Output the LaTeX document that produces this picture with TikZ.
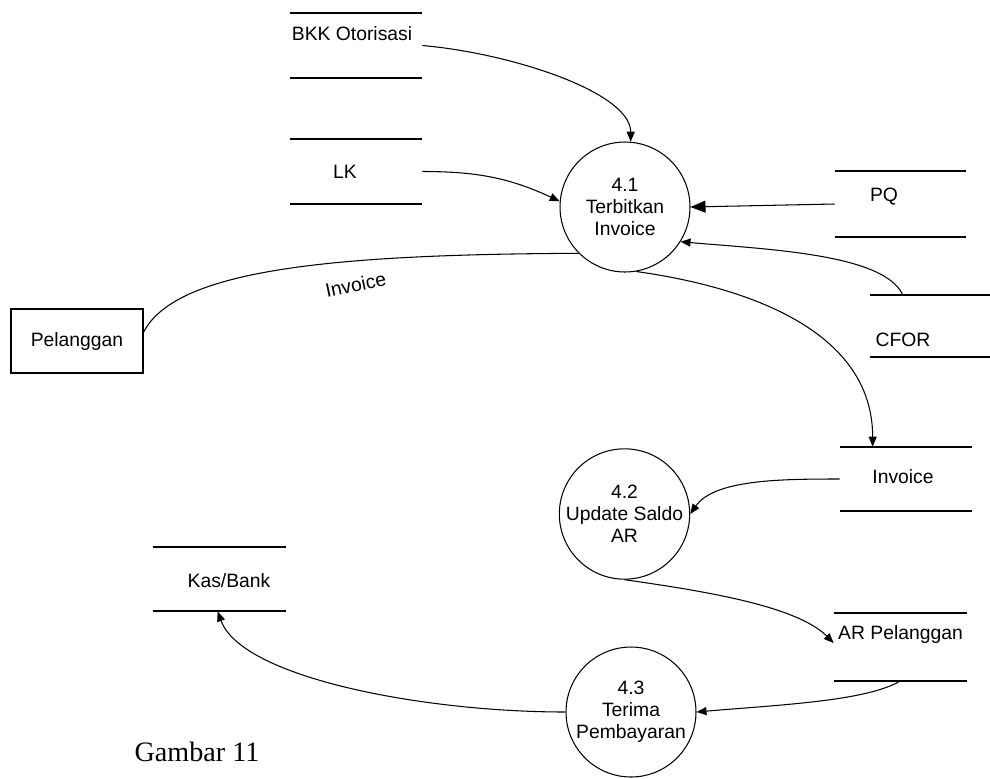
\documentclass[tikz,border=0pt]{standalone}
\usepackage{fontspec}
\setmainfont{Liberation Sans}
\newfontfamily\captionfont{Liberation Serif}
\usetikzlibrary{arrows.meta}

\begin{document}
\begin{tikzpicture}[
    x=0.02cm, y=0.02cm,
    every node/.style={font=\fontsize{11}{12.5}\selectfont},
    process/.style={draw, circle, line width=0.6pt, minimum size=2.6cm, inner sep=0pt, align=center},
    entity/.style={draw, line width=0.8pt, minimum width=2.64cm, minimum height=1.28cm, inner sep=0pt},
    storeline/.style={-, line width=1.1pt},
    store/.style={minimum width=2.64cm, minimum height=1.3cm, inner sep=0pt,
        append after command={(\tikzlastnode.north west) edge[storeline] (\tikzlastnode.north east)
                              (\tikzlastnode.south west) edge[storeline] (\tikzlastnode.south east)}},
    flow/.style={-{Triangle[length=2mm, width=1.6mm]}, line width=0.6pt},
    big flow/.style={-{Triangle[length=3mm, width=2.4mm]}, line width=0.6pt},
]
\useasboundingbox (0,0) rectangle (990,-778);

% Data stores
\node[store, label={[xshift=-0.08cm, yshift=0.23cm]center:BKK Otorisasi}] (bkk) at (356,-45.5) {};
\node[store, label={[xshift=-0.22cm]center:LK}] (lk) at (356,-171.5) {};
\node[store, minimum width=2.62cm, minimum height=1.32cm, label={[xshift=-0.33cm, yshift=0.15cm]center:PQ}] (pq) at (900.5,-204) {};
\node[store, minimum width=2.4cm, minimum height=1.24cm, label={[xshift=-0.54cm, yshift=-0.28cm]center:CFOR}] (cfor) at (930,-326) {};
\node[store, minimum height=1.28cm, label={[xshift=-0.06cm, yshift=0.05cm]center:Invoice}] (inv) at (906,-479) {};
\node[store, minimum width=2.66cm, minimum height=1.36cm, label={[yshift=0.25cm]center:AR Pelanggan}] (arp) at (900.5,-647) {};
\node[store, minimum width=2.66cm, minimum height=1.28cm, label={[xshift=0.19cm, yshift=-0.04cm]center:Kas/Bank}] (kas) at (219.5,-579) {};

% Processes
\node[process] (p41) at (625,-207) {4.1\\Terbitkan\\Invoice};
\node[process] (p42) at (624.5,-514) {4.2\\Update Saldo\\AR};
\node[process] (p43) at (631,-712) {4.3\\Terima\\Pembayaran};

% External entity
\node[entity] (pel) at (77,-341) {Pelanggan};

% Caption
\node[font=\captionfont\fontsize{16}{18}\selectfont] (caption) at (197,-752) {Gambar 11};

% Flows into 4.1
\draw[flow] (bkk.east) to[out=-5, in=90, in looseness=0.55] (p41.85);
\draw[flow] (lk.east) to[out=0, in=155] (p41.175);
\draw[big flow] (pq.west) -- (p41.east);
\draw[flow] ([xshift=0.66cm]cfor.north west) to[out=115, in=-5, out looseness=0.5] (p41.-32);

% Invoice to customer
\draw[line width=0.6pt] (p41.225) .. controls +(-250,-1) and +(32,62) .. ([yshift=0.18cm]pel.east)
    node[pos=0.35, below=6pt, rotate=12] {Invoice};

% 4.1 -> Invoice -> 4.2 -> AR Pelanggan -> 4.3 -> Kas/Bank
\draw[flow] (p41.-80) to[out=-8, in=90] ([xshift=0.66cm]inv.north west);
\draw[flow] (inv.west) to[out=180, in=55, in looseness=0.7] (p42.east);
\draw[flow] (p42.south) to[out=-8, in=135, in looseness=0.6] ([yshift=0.08cm]arp.west);
\draw[flow] ([xshift=1.32cm]arp.south west) to[out=-150, in=5, out looseness=0.5] (p43.east);
\draw[flow] (p43.west) to[out=180, in=-70, in looseness=0.5] ([xshift=1.3cm]kas.south west);

\end{tikzpicture}
\end{document}
